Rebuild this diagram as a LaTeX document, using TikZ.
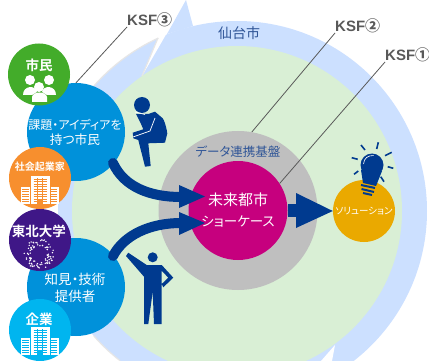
\documentclass[tikz,border=0pt]{standalone}
\usepackage{fontspec}
\usetikzlibrary{calc}
\newfontfamily\cjk[RawFeature=+palt]{Noto Sans CJK JP}
\newfontfamily\cjkb[RawFeature=+palt]{Noto Sans CJK JP Bold}
\setmainfont{Liberation Sans}
\definecolor{ringblue}{HTML}{CCE0FF}
\definecolor{ringedge}{HTML}{E6E6E6}
\definecolor{cityGreen}{HTML}{D9EFD5}
\definecolor{dataGray}{HTML}{BFBFBF}
\definecolor{showMag}{HTML}{C6007E}
\definecolor{solYellow}{HTML}{EAA900}
\definecolor{navy}{HTML}{003A8F}
\definecolor{citeBlue}{HTML}{0091DA}
\definecolor{leafGreen}{HTML}{43AC2A}
\definecolor{bizOrange}{HTML}{F78F2E}
\definecolor{uniPurple}{HTML}{3F1787}
\definecolor{firmCyan}{HTML}{00B5EF}
\definecolor{ksfGray}{HTML}{595959}
\definecolor{cityText}{HTML}{2F5597}
\tikzset{
  disc/.style={circle,inner sep=0pt,minimum size=#1},
  ksf/.style={font=\bfseries\fontsize{15}{15}\selectfont,text=ksfGray,inner sep=0pt},
  txt/.style={font=\cjk\fontsize{#1}{#1}\selectfont,text=white,align=center,inner sep=0pt},
  tag/.style={font=\cjkb\fontsize{#1}{#1}\selectfont,text=white,inner sep=0pt},
  leader/.style={draw=ksfGray,line width=.8pt},
  flow/.style={navy,line width=10pt,line cap=round}
}
\newcommand{\bldg}[3]{
  \fill[white] (#1-9.5,#2-28) rectangle (#1+9.5,#2);
  \fill[white] (#1-19.5,#2-17) rectangle (#1+18.5,#2);
  \foreach \k in {2.5,5,...,25} \draw[#3,line width=.5pt] (#1-6.5,#2-\k)--(#1+6.5,#2-\k);
  \foreach \k in {2.5,5,...,15} {
    \draw[#3,line width=.5pt] (#1-18,#2-\k)--(#1-11,#2-\k);
    \draw[#3,line width=.5pt] (#1+11,#2-\k)--(#1+17,#2-\k);
  }
  \foreach \k in {-2.5,2.5} \draw[#3,line width=.5pt] (#1+\k,#2-26)--(#1+\k,#2-5);
  \draw[#3,line width=.6pt] (#1-10,#2-17)--(#1-10,#2) (#1+10,#2-17)--(#1+10,#2);
  \fill[#3] (#1-3,#2-5) rectangle (#1+2.5,#2);
}
\begin{document}
\begin{tikzpicture}[x=1pt,y=-1pt]
\clip (0,0) rectangle (429,361);
\fill[white] (0,0) rectangle (429,361);
\coordinate (c) at (237,211);
% ring with its cuts
\fill[ringblue] (c) circle (190);
\fill[white] (142,76)--(158,38)--(120,10)--(186,0)--cycle;
\fill[white] (0,0) rectangle (58,361);
\fill[ringblue] (186,0)--(193,26)--(167,34)--cycle;
\fill[white] (335,345)--(321,361)--(332,361)--cycle;
\draw[ringedge,line width=1.2pt] (142,76)--(158,38);
\draw[ringedge,line width=1.2pt] ($(c)+(245.5:190)$) arc (245.5:221:190);
\draw[ringedge,line width=1.2pt] ($(c)+(139:190)$) arc (139:128:190);
% discs
\node[disc=330pt,fill=cityGreen] (city) at (c) {};
\node[disc=159pt,fill=dataGray] (base) at (238,210.5) {};
\node[disc=99pt,fill=showMag,txt=15] (show) at (238,210.5) {未来都市\\[6pt]{\fontsize{13.5}{13.5}\selectfont ショーケース}};
\node[disc=62pt,fill=solYellow,txt=9.5] (sol) at (364,211) {ソリューション};
\node[disc=98pt,fill=citeBlue] (idea) at (76,132) {};
\node[disc=98pt,fill=citeBlue] (know) at (76,287) {};
\node[disc=62pt,fill=leafGreen] (citizen) at (39,74.5) {};
\node[disc=62pt,fill=bizOrange] (social) at (40,178) {};
\node[disc=62pt,fill=uniPurple] (tohoku) at (40,240) {};
\node[disc=62pt,fill=firmCyan] (firm) at (40,330) {};
% labels
\node[ksf,anchor=south west] (ksfthree) at (127,27) {KSF{\cjk ③}};
\node[ksf,anchor=south west] (ksftwo) at (335,33) {KSF{\cjk ②}};
\node[ksf,anchor=south west] (ksfone) at (385,62) {KSF{\cjk ①}};
\node[txt=14,text=cityText] (sendai) at (239,33) {仙台市};
\node[txt=12.5,text=cityText] (kiban) at (238,152) {データ連携基盤};
\node[txt=12] (ideatxt) at (75,132) {課題・アイディアを\\[3pt]{\fontsize{12.7}{12.7}\selectfont 持つ市民}};
\node[txt=13.5] (knowtxt) at (75,288) {知見・技術\\[3pt]提供者};
\node[tag=13.5] (citizentxt) at (39,65) {市民};
\node[tag=10] (socialtxt) at (40,167) {社会起業家};
\node[tag=13.5] (tohokutxt) at (39,231) {東北大学};
\node[tag=13.5] (firmtxt) at (39,319) {企業};
% leaders
\draw[leader] (ksfthree.south west)--(idea.90);
\draw[leader] (ksftwo.south west)--(base.80.7);
\draw[leader] (ksfone.south west)--(show.33.5);
% arrows
\draw[flow] (113,163) .. controls (124,187) and (150,197) .. (181,197);
\fill[navy] (179,185)--(205,196.5)--(179,208)--cycle;
\draw[flow] (113,256) .. controls (124,235) and (150,223) .. (181,223);
\fill[navy] (179,212)--(205,223)--(179,235)--cycle;
\fill[navy] (show.east |- 0,204) rectangle (297,217);
\fill[navy] (296,193)--(sol.west)--(296,228)--cycle;
% people
\fill[white] (30,80) circle (5) (49,80) circle (5);
\fill[white] (23,95) .. controls (23,85) and (36,85) .. (37,92)--(32,95)--cycle;
\fill[white] (56,95) .. controls (56,85) and (43,85) .. (42,92)--(47,95)--cycle;
\fill[white] (39,87) circle (5);
\fill[white] (32,102)--(32,97) .. controls (33,91) and (46,91) .. (47,97)--(47,102)--cycle;
\bldg{40}{204}{bizOrange}
\bldg{40}{355}{firmCyan}
% university mark
\pgfmathsetseed{7}
\foreach \k in {1,...,85} {
  \pgfmathsetmacro{\ang}{rnd*360}
  \pgfmathsetmacro{\rad}{8+rnd*7}
  \fill[white] ($(39,254)+(\ang:\rad)$) circle (.8);
}
% thinking figure
\fill[navy] (142,105) circle (8);
\fill[navy] (136,114)--(140.7,123.3)--(143.3,129.3)--(132.7,132.7)--(133.3,138.3)--(138.3,140)--(145,166.7)--(150.7,166)--(148.3,143.3)--(165,142.7)--(167.3,133.3) .. controls (166,125) and (164,120) .. (162.7,118.3)--(155,111.7)--(148.3,114)--cycle;
\draw[white,line width=.7pt] (133,137)--(150,131)--(155,118);
\draw[white,line width=.7pt] (135,112)--(145,114.5);
% pointing figure
\fill[navy] (152.7,257.3) circle (5);
\fill[navy] (128.3,252.7)--(146.7,265)--(161.7,265)--(173.3,277.7)--(163.3,287.3)--(161.7,284)--(168.3,277.7)--(161.7,270.7)--(161.7,324)--(154,324)--(152.7,291.7)--(148.3,324)--(144,324)--(144,276.7)--(126,256)--cycle;
% lamp
\fill[navy] (372,165) circle (11.5);
\fill[navy] (361,170)--(363,183)--(376,186)--(382,171)--cycle;
\draw[white,line width=.6pt] (363.5,164) .. controls (364,158) and (368,155.5) .. (373.5,155.5);
\foreach \ax/\ay/\bx/\by in {361/145/365/150,378.3/142.3/376.7/149,391.7/152.3/385/155.7,393.3/168.3/387.7/166.7,384/181.7/380.7/176.7,351.7/157.7/357.7/159.3,354/174.3/358.3/171}
  \draw[navy,line width=1.6pt] (\ax,\ay)--(\bx,\by);
\draw[navy,line width=2pt] (361,185)--(375,188) (361.5,189)--(374,192) (363,193)--(372,195);
\end{tikzpicture}
\end{document}
